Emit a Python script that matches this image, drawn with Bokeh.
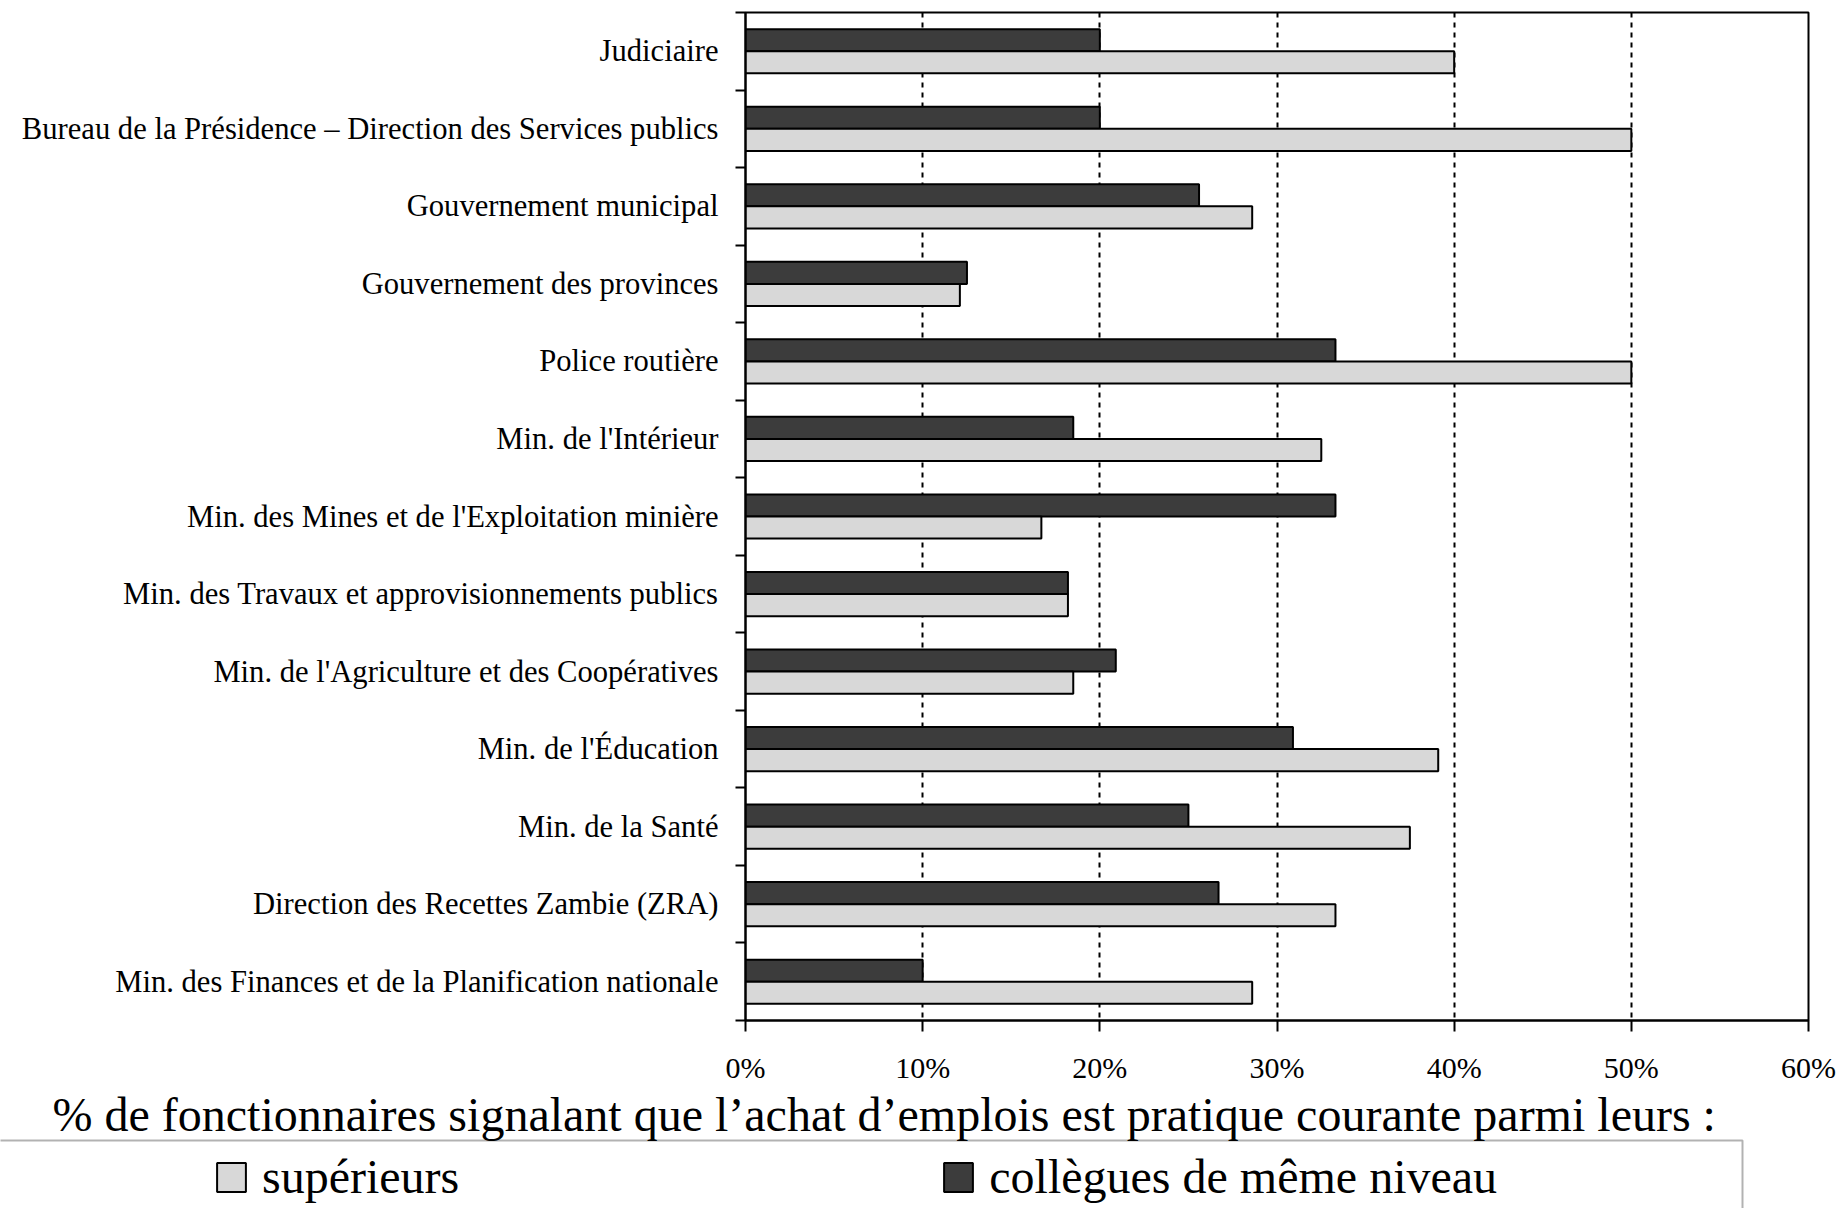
from bokeh.plotting import figure
from bokeh.layouts import column
from bokeh.models import (Range1d, FixedTicker, PrintfTickFormatter, Legend, LegendItem,
                          Label, BoxAnnotation, ColumnDataSource)
from bokeh.transform import dodge
from bokeh.embed import file_html
from bokeh.resources import INLINE

categories = [
    "Judiciaire",
    "Bureau de la Présidence – Direction des Services publics",
    "Gouvernement municipal",
    "Gouvernement des provinces",
    "Police routière",
    "Min. de l'Intérieur",
    "Min. des Mines et de l'Exploitation minière",
    "Min. des Travaux et approvisionnements publics",
    "Min. de l'Agriculture et des Coopératives",
    "Min. de l'Éducation",
    "Min. de la Santé",
    "Direction des Recettes Zambie (ZRA)",
    "Min. des Finances et de la Planification nationale",
]
superieurs = [40.0, 50.0, 28.6, 12.1, 50.0, 32.5, 16.7, 18.2, 18.5, 39.1, 37.5, 33.3, 28.6]
collegues = [20.0, 20.0, 25.6, 12.5, 33.3, 18.5, 33.3, 18.2, 20.9, 30.9, 25.0, 26.7, 10.0]
x_ticks = [0, 10, 20, 30, 40, 50, 60]
axis_title = "% de fonctionnaires signalant que l\u2019achat d\u2019emplois est pratique courante parmi leurs :"
legend_labels = ["supérieurs", "collègues de même niveau"]

LIGHT = "#d8d8d8"
DARK = "#3c3c3c"
SERIF = "Liberation Serif"
W = 1841
H_MAIN = 1086
H_LEG = 1208 - H_MAIN

n = len(categories)
centers = [i + 0.5 for i in range(n)]
boundaries = list(range(n + 1))

source = ColumnDataSource(dict(pos=centers, sup=superieurs, col=collegues))

p = figure(width=W, height=H_MAIN, x_range=Range1d(0, 60), y_range=Range1d(n, 0),
           output_backend="svg", toolbar_location=None,
           min_border_left=745, min_border_right=33, min_border_top=12, min_border_bottom=64)
p.frame_align = False
p.background_fill_color = "white"
p.border_fill_color = "white"
p.outline_line_color = "black"
p.outline_line_width = 2

bar_style = dict(line_color="black", line_width=2)
r_col = p.hbar(y=dodge("pos", -0.1425), left=0, right="col", height=0.285, source=source,
               fill_color=DARK, **bar_style)
r_sup = p.hbar(y=dodge("pos", 0.1425), left=0, right="sup", height=0.285, source=source,
               fill_color=LIGHT, **bar_style)

# x axis
xa = p.xaxis[0]
xa.ticker = FixedTicker(ticks=x_ticks)
xa.formatter = PrintfTickFormatter(format="%d%%")
xa.axis_line_width = 2
xa.axis_line_color = "black"
xa.major_tick_line_width = 2
xa.major_tick_line_color = "black"
xa.major_tick_out = 11
xa.major_tick_in = 0
xa.minor_tick_line_color = None
xa.major_label_text_font = SERIF
xa.major_label_text_font_size = "30px"
xa.major_label_text_color = "black"
xa.major_label_standoff = 19

# y axis: labels at band centres, ticks at band boundaries
ya = p.yaxis[0]
ya.ticker = FixedTicker(ticks=centers, minor_ticks=boundaries)
ya.major_label_overrides = {c: lab for c, lab in zip(centers, categories)}
ya.axis_line_width = 2
ya.axis_line_color = "black"
ya.major_tick_line_color = None
ya.major_tick_out = 0
ya.major_tick_in = 0
ya.minor_tick_line_color = "black"
ya.minor_tick_line_width = 2
ya.minor_tick_out = 10
ya.minor_tick_in = 0
ya.major_label_text_font = SERIF
ya.major_label_text_font_size = "30.6px"
ya.major_label_text_color = "black"
ya.major_label_standoff = 17

# grid
p.xgrid.ticker = FixedTicker(ticks=x_ticks[1:])
p.xgrid.grid_line_color = "black"
p.xgrid.grid_line_width = 2
p.xgrid.grid_line_dash = "5 5"
p.ygrid.visible = False

# ---- lower strip: axis title + legend box (pixel-unit ranges, y measured from page bottom) ----
q = figure(width=W, height=H_LEG, x_range=Range1d(0, W), y_range=Range1d(0, H_LEG),
           output_backend="svg", toolbar_location=None,
           x_axis_type=None, y_axis_type=None,
           min_border_left=0, min_border_right=0, min_border_top=0, min_border_bottom=0)
q.frame_align = False
q.outline_line_color = None
q.grid.visible = False
q.background_fill_color = "white"
q.border_fill_color = "white"

q.add_layout(Label(x=52, y=94, text=axis_title,
                   text_font=SERIF, text_font_size="48px", text_color="black",
                   text_align="left", text_baseline="middle"))

q.add_layout(BoxAnnotation(left=-20, right=1742, top=68, bottom=-20,
                           fill_color=None, line_color="black", line_width=2))

# hidden copies of the two series, used only for the legend swatches
h_sup = q.hbar(y=dodge("pos", 0.1425), left=0, right="sup", height=0.285, source=source,
               fill_color=LIGHT, visible=False, **bar_style)
h_col = q.hbar(y=dodge("pos", -0.1425), left=0, right="col", height=0.285, source=source,
               fill_color=DARK, visible=False, **bar_style)

legend = Legend(items=[LegendItem(label=legend_labels[0], renderers=[h_sup]),
                       LegendItem(label=legend_labels[1], renderers=[h_col])],
                orientation="horizontal", location=(213, 4),
                glyph_width=36, glyph_height=36, label_standoff=13, spacing=481,
                padding=10, margin=0, border_line_color=None, background_fill_alpha=0,
                inactive_fill_alpha=0,
                label_text_font=SERIF, label_text_font_size="48px", label_text_color="black")
q.add_layout(legend)

layout = column(p, q, spacing=0)
open("out.html", "w").write(file_html(layout, INLINE))
